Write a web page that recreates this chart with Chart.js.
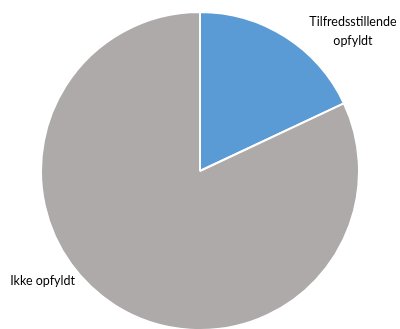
<!DOCTYPE html>
<html>
<head>
<meta charset="utf-8">
<script src="https://cdn.jsdelivr.net/npm/chart.js@4"></script>
<style>
    html, body { margin: 0; padding: 0; background: #fff; overflow: hidden; }
    #wrap { width: 400px; height: 331px; position: relative; }
</style>
</head>
<body>
<div id="wrap"><canvas id="pieChart"></canvas></div>
<script>
// Data
const labels = ["Tilfredsstillende opfyldt", "Ikke opfyldt"];
const values = [18, 82];
const colors = ["#5B9BD5", "#AEAAAA"];

// Label lines and position (relative to centre, in units of radius)
const labelLines = [["Tilfredsstillende", "opfyldt"], ["Ikke opfyldt"]];
const labelOffsets = [[0.962, -0.88], [-0.99, 0.69]];

// Tegn labels udenfor kagen
const outsideLabels = {
    id: 'outsideLabels',
    afterDraw(chart) {
        const ctx = chart.ctx;
        const meta = chart.getDatasetMeta(0);
        ctx.save();
        ctx.font = '12.5px Lato, "Open Sans", sans-serif';
        ctx.fillStyle = '#000';
        ctx.textAlign = 'center';
        ctx.textBaseline = 'middle';
        meta.data.forEach((arc, i) => {
            let r = arc.outerRadius;
            let cx = arc.x + labelOffsets[i][0] * r;
            let cy = arc.y + labelOffsets[i][1] * r;
            let lines = labelLines[i];
            let lh = 19;
            lines.forEach((line, j) => {
                ctx.fillText(line, cx, cy + (j - (lines.length - 1) / 2) * lh);
            });
        });
        ctx.restore();
    }
};

new Chart("pieChart", {
    type: "pie",
    data: {
        labels: labels,
        datasets: [{
            data: values,
            backgroundColor: colors,
            borderColor: '#fff',
            borderWidth: 2
        }]
    },
    options: {
        responsive: true,
        maintainAspectRatio: false,
        animation: false,
        layout: {
            padding: { top: 11, bottom: 0, left: 0, right: 0 }
        },
        plugins: {
            legend: { display: false },
            tooltip: { enabled: false }
        }
    },
    plugins: [outsideLabels]
});
</script>
</body>
</html>
